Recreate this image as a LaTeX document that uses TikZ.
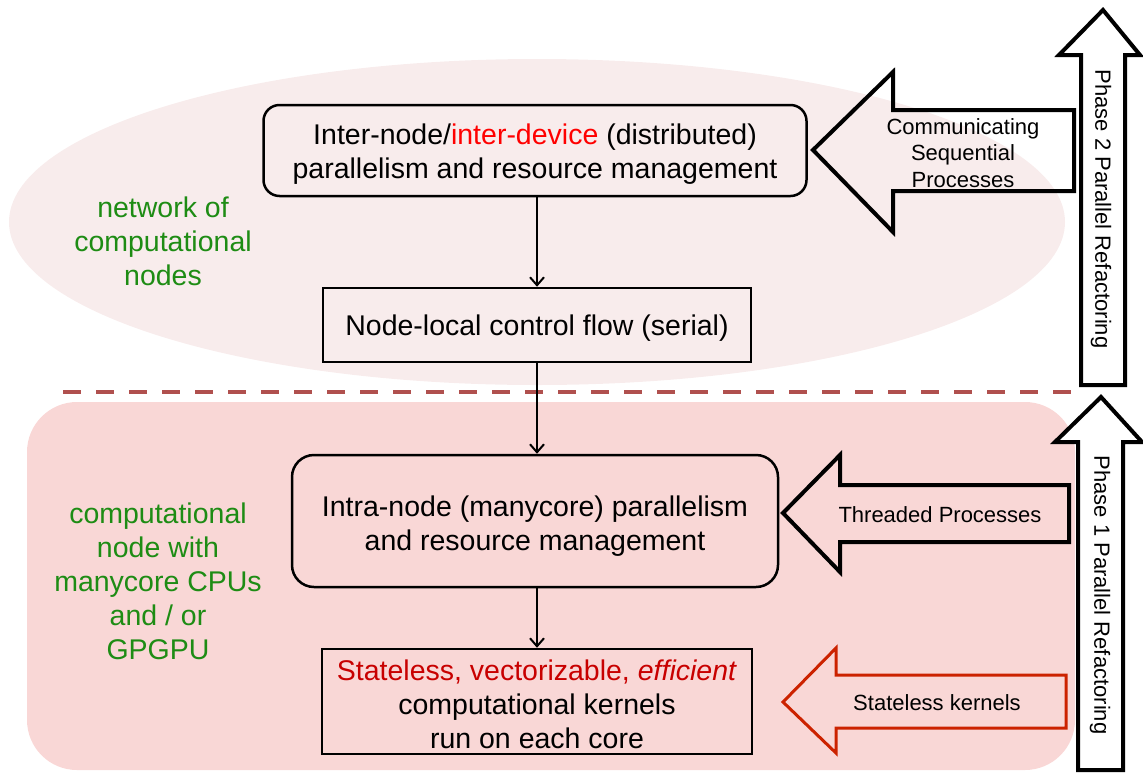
\documentclass[tikz,border=0pt]{standalone}
\usepackage{fontspec}
\setmainfont{Liberation Sans}
\usetikzlibrary{arrows.meta}
\definecolor{ellfill}{HTML}{F8ECEC}
\definecolor{bgfill}{HTML}{F9D7D6}
\definecolor{dashc}{HTML}{B0504E}
\definecolor{grn}{HTML}{1E8C14}
\definecolor{dred}{HTML}{C80000}
\definecolor{rarrow}{HTML}{CC2200}
\tikzset{
  mainbox/.style={draw=black, line width=2.5pt, inner sep=0pt},
  boxtext/.style={align=center, inner sep=0pt, font=\fontsize{28.5}{34}\selectfont},
  blockarrow/.style={draw=black, line width=4pt, miter limit=10},
  arrowtext/.style={align=center, inner sep=0pt, font=\fontsize{22}{26.5}\selectfont},
  greentext/.style={text=grn, align=center, inner sep=0pt, font=\fontsize{28.5}{34}\selectfont},
  flow/.style={line width=2pt, -{Straight Barb[length=8pt,width=14pt,line width=2pt]}}
}
\begin{document}
\begin{tikzpicture}[x=1pt,y=-1pt]
\useasboundingbox (0,0) rectangle (1143,780);
% backgrounds
\fill[ellfill] (537,222) ellipse [x radius=528pt, y radius=163pt];
\fill[bgfill, rounded corners=50pt] (27,402) rectangle (1075,770);
\draw[dashc, line width=4pt, dash pattern=on 18pt off 15pt] (63,392) -- (1075,392);

% main boxes
\node[mainbox, rounded corners=16pt, minimum width=543pt, minimum height=91pt] (b1) at (535,150.5) {};
\node[boxtext] (t1) at (535,154.5)
  {Inter-node/\textcolor{red}{inter-device} (distributed)\\parallelism and resource management};
\node[mainbox, minimum width=428pt, minimum height=74pt] (b2) at (537,325) {};
\node[boxtext] (t2) at (537,328) {Node-local control flow (serial)};
\node[mainbox, rounded corners=22pt, minimum width=486pt, minimum height=132pt] (b3) at (535,521) {};
\node[boxtext] (t3) at (535,526) {Intra-node (manycore) parallelism\\and resource management};
\node[mainbox, minimum width=430pt, minimum height=105pt] (b4) at (537,701.5) {};
\node[boxtext] (t4) at (537,704.5)
  {\textcolor{dred}{Stateless, vectorizable, \textit{efficient}}\\computational kernels\\run on each core};

\draw[flow] (b1.south -| b2.north) -- (b2.north);
\draw[flow] (b2.south) -- (b3.north -| b2.south);
\draw[flow] (b3.south -| b4.north) -- (b4.north);

% left green labels
\node[greentext] (net) at (163,241) {network of\\computational\\nodes};
\node[greentext] (cnode) at (158,581) {computational\\node with\\manycore CPUs\\and / or\\GPGPU};

% side block arrows
\draw[blockarrow] (813,150) -- (893,72) -- (893,110) -- (1074,110) -- (1074,191)
  -- (893,191) -- (893,232) -- cycle;
\node[arrowtext] (csp) at (963,153) {Communicating\\Sequential\\Processes};

\draw[blockarrow] (783,513) -- (840,455) -- (840,485) -- (1069,485) -- (1069,542)
  -- (840,542) -- (840,572) -- cycle;
\node[arrowtext] (thr) at (940,515) {Threaded Processes};

\draw[blockarrow, draw=rarrow, line width=3pt] (783,702) -- (836,648) -- (836,675)
  -- (1066,675) -- (1066,728) -- (836,728) -- (836,753) -- cycle;
\node[arrowtext] (stk) at (937,703) {Stateless kernels};

% phase arrows
\draw[blockarrow, fill=white] (1103,10) -- (1140,55) -- (1125,55) -- (1125,385) -- (1081,385)
  -- (1081,55) -- (1059,55) -- cycle;
\node[arrowtext, rotate=-90] (ph2) at (1101,209) {Phase 2 Parallel Refactoring};

\draw[blockarrow, fill=white] (1101,397) -- (1142,442) -- (1123,442) -- (1123,770) -- (1078,770)
  -- (1078,442) -- (1055,442) -- cycle;
\node[arrowtext, rotate=-90] (ph1) at (1100,595) {Phase 1 Parallel Refactoring};
\end{tikzpicture}
\end{document}
